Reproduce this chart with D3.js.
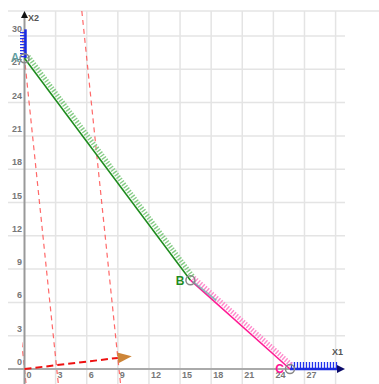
<!DOCTYPE html>
<html>
<head>
<meta charset="utf-8">
<script src="https://cdn.jsdelivr.net/npm/d3@7"></script>
<style>
  html, body { margin: 0; padding: 0; background: #fff; }
  svg { display: block; font-family: "Liberation Sans", Arial, sans-serif; }
</style>
</head>
<body>
<svg id="chart" width="379" height="384"></svg>
<script>
// Feasible region vertices (x1, x2)
const vertexNames = ["A", "B", "C"];
const vertexX1 = [0, 16, 25.6];
const vertexX2 = [28, 8, 0];
const vertexLabelColors = ["#5f9ea0", "#1e8c1e", "#ff1493"];

// Objective gradient vector and iso-profit levels (9*x1 + 1*x2 = level)
const gradient = [9, 1];
const isoLevels = [0, 28, 82];

// Axis ticks
const xTicks = [0, 3, 6, 9, 12, 15, 18, 21, 24, 27];
const yTicks = [0, 3, 6, 9, 12, 15, 18, 21, 24, 27, 30];
const gridValues = [3, 6, 9, 12, 15, 18, 21, 24, 27, 30];

const svg = d3.select("#chart");
const x = d3.scaleLinear().domain([0, 30]).range([24.5, 335.6]);
const y = d3.scaleLinear().domain([0, 30]).range([369, 36]);

const plotTop = 11, plotBottom = 384, plotLeft = 8, plotRight = 345;

// clip region for the iso-profit lines (starts just left of the x2 axis)
svg.append("defs").append("clipPath").attr("id", "isoClip")
  .append("rect").attr("x", x(-0.25)).attr("y", plotTop)
  .attr("width", 379 - x(-0.25)).attr("height", plotBottom - plotTop);

// grid
const grid = svg.append("g").attr("stroke", "#e4e4e4").attr("stroke-width", 1.5);
grid.selectAll("line.v").data(gridValues).join("line").attr("class", "v")
  .attr("x1", d => x(d)).attr("x2", d => x(d))
  .attr("y1", plotTop).attr("y2", plotBottom);
grid.selectAll("line.h").data(gridValues).join("line").attr("class", "h")
  .attr("x1", plotLeft).attr("x2", plotRight)
  .attr("y1", d => y(d)).attr("y2", d => y(d));
grid.append("line").attr("x1", plotLeft).attr("x2", 379).attr("y1", plotTop).attr("y2", plotTop);

// tick labels
const tickStyle = s => s.attr("font-size", 9).attr("font-weight", "bold").attr("fill", "#777");
svg.append("g").selectAll("text").data(yTicks).join("text")
  .attr("x", 22).attr("y", d => y(d) - 4)
  .attr("text-anchor", "end").text(d => d).call(tickStyle);
svg.append("g").selectAll("text").data(xTicks).join("text")
  .attr("x", d => x(d) + 2).attr("y", 378)
  .text(d => d).call(tickStyle);

// iso-profit lines
const yTopVal = y.invert(plotTop), yBotVal = y.invert(plotBottom);
svg.append("g").attr("clip-path", "url(#isoClip)")
  .selectAll("line").data(isoLevels).join("line")
  .attr("x1", d => x((d - gradient[1] * yTopVal) / gradient[0])).attr("y1", plotTop)
  .attr("x2", d => x((d - gradient[1] * yBotVal) / gradient[0])).attr("y2", plotBottom)
  .attr("stroke", "#ff4d4d").attr("stroke-opacity", 0.85)
  .attr("stroke-width", 1.2).attr("stroke-dasharray", "5,4");

// axes
svg.append("line").attr("x1", x(0)).attr("x2", x(0)).attr("y1", plotBottom).attr("y2", 16)
  .attr("stroke", "#999").attr("stroke-width", 2);
svg.append("line").attr("x1", plotLeft).attr("x2", plotRight - 2).attr("y1", y(0)).attr("y2", y(0))
  .attr("stroke", "#aaa").attr("stroke-width", 2);
svg.append("path")
  .attr("d", `M${x(0)},11 L${x(0) - 3.5},18 L${x(0) + 3.5},18 Z`)
  .attr("fill", "#111");

svg.append("text").attr("x", 28).attr("y", 21).text("X2")
  .attr("font-size", 9).attr("font-weight", "bold").attr("fill", "#555");
svg.append("text").attr("x", 332).attr("y", 355).text("X1")
  .attr("font-size", 9).attr("font-weight", "bold").attr("fill", "#555");

// hatch ticks along a segment, on the side given by the normal sign
function hatch(p0, p1, side, len, gap, off) {
  const dx = p1[0] - p0[0], dy = p1[1] - p0[1];
  const L = Math.hypot(dx, dy);
  const ux = dx / L, uy = dy / L;
  const nx = -uy * side, ny = ux * side;
  let d = "";
  for (let s = 1.5; s <= L - 0.5; s += gap) {
    const bx = p0[0] + ux * s + nx * off, by = p0[1] + uy * s + ny * off;
    d += `M${bx},${by}L${bx + nx * len},${by + ny * len}`;
  }
  return d;
}

const P = vertexX1.map((v, i) => [x(v), y(vertexX2[i])]);

// blue bounds on the axes
const blueTopY = y(30.6);
svg.append("path").attr("d", hatch([x(0) + 1, P[0][1]], [x(0) + 1, blueTopY], -1, 5.5, 3, 0))
  .attr("stroke", "#2233ee").attr("stroke-width", 1.3).attr("fill", "none");
svg.append("line").attr("x1", x(0) + 1).attr("x2", x(0) + 1).attr("y1", P[0][1]).attr("y2", blueTopY)
  .attr("stroke", "#1a2ae0").attr("stroke-width", 2.5);

const blueEnd = 339;
svg.append("path").attr("d", hatch([P[2][0], y(0) - 1], [blueEnd, y(0) - 1], -1, 6, 3, 0))
  .attr("stroke", "#2233ee").attr("stroke-width", 1.3).attr("fill", "none");
svg.append("line").attr("x1", P[2][0]).attr("x2", blueEnd).attr("y1", y(0)).attr("y2", y(0))
  .attr("stroke", "#1a2ae0").attr("stroke-width", 2.5);
svg.append("path")
  .attr("d", `M345,${y(0)} L337,${y(0) - 4} L337,${y(0) + 4} Z`)
  .attr("fill", "#0a0a6a");

// constraint AB
svg.append("path").attr("d", hatch(P[0], P[1], -1, 5, 3, 1.5))
  .attr("stroke", "#86cc86").attr("stroke-width", 1.4).attr("fill", "none");
svg.append("line").attr("x1", P[0][0]).attr("y1", P[0][1]).attr("x2", P[1][0]).attr("y2", P[1][1])
  .attr("stroke", "#1e8c1e").attr("stroke-width", 1.6);

// constraint BC
svg.append("path").attr("d", hatch(P[1], P[2], -1, 5, 3, 1.5))
  .attr("stroke", "#ff8ccc").attr("stroke-width", 1.4).attr("fill", "none");
svg.append("line").attr("x1", P[1][0]).attr("y1", P[1][1]).attr("x2", P[2][0]).attr("y2", P[2][1])
  .attr("stroke", "#ff1a94").attr("stroke-width", 1.6);

// overlap of AB past vertex B
const tB = 0.24;
svg.append("line")
  .attr("x1", P[1][0] + 2).attr("y1", P[1][1] + 1)
  .attr("x2", P[1][0] + (P[2][0] - P[1][0]) * tB + 2).attr("y2", P[1][1] + (P[2][1] - P[1][1]) * tB - 1)
  .attr("stroke", "#6aa8a8").attr("stroke-opacity", 0.7).attr("stroke-width", 2);

// gradient arrow
const tip = [x(gradient[0]), y(gradient[1])];
svg.append("line").attr("x1", x(0)).attr("y1", y(0)).attr("x2", tip[0]).attr("y2", tip[1])
  .attr("stroke", "#ee1111").attr("stroke-width", 2).attr("stroke-dasharray", "7,4");
{
  const ang = Math.atan2(tip[1] - y(0), tip[0] - x(0));
  const ux = Math.cos(ang), uy = Math.sin(ang);
  const L = 14, W = 5.5;
  const a = [tip[0] + ux * L, tip[1] + uy * L];
  const b = [tip[0] - uy * W, tip[1] + ux * W];
  const c = [tip[0] + uy * W, tip[1] - ux * W];
  svg.append("path").attr("d", `M${a}L${b}L${c}Z`).attr("fill", "#cd8538");
}

// vertices
svg.append("g").selectAll("circle").data(P).join("circle")
  .attr("cx", d => d[0]).attr("cy", d => d[1]).attr("r", 4.5)
  .attr("fill", "none").attr("stroke", "#888").attr("stroke-width", 1.5);

const labelOffsets = [[-5, 4], [-6, 5], [-6, 4]];
svg.append("g").selectAll("text").data(vertexNames).join("text")
  .attr("x", (d, i) => P[i][0] + labelOffsets[i][0])
  .attr("y", (d, i) => P[i][1] + labelOffsets[i][1])
  .attr("text-anchor", "end")
  .attr("font-size", 12).attr("font-weight", "bold")
  .attr("fill", (d, i) => vertexLabelColors[i])
  .text(d => d);
</script>
</body>
</html>
